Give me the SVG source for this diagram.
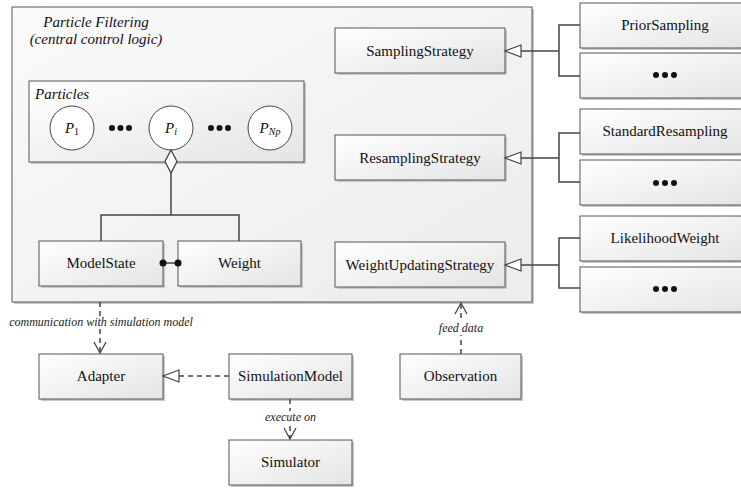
<svg xmlns="http://www.w3.org/2000/svg" width="741" height="488" viewBox="0 0 741 488">
<defs>
<linearGradient id="gBox" x1="0" y1="0" x2="1" y2="1">
<stop offset="0" stop-color="#ffffff"/>
<stop offset="1" stop-color="#e4e4e4"/>
</linearGradient>
<linearGradient id="gMain" x1="0" y1="0" x2="1" y2="1">
<stop offset="0" stop-color="#fafafa"/>
<stop offset="1" stop-color="#ececec"/>
</linearGradient>
<marker id="gen" markerUnits="userSpaceOnUse" markerWidth="18" markerHeight="14" refX="16" refY="7" orient="auto" overflow="visible">
<path d="M0,1 L16,7 L0,13 Z" fill="#fff" stroke="#444" stroke-width="1.2"/>
</marker>
<marker id="dep" markerUnits="userSpaceOnUse" markerWidth="12" markerHeight="14" refX="11" refY="6" orient="auto" overflow="visible">
<path d="M0,0 L11,6 L0,12" fill="none" stroke="#444" stroke-width="1.3"/>
</marker>
</defs>
<style>
.box{fill:url(#gBox);stroke:#555;stroke-width:1}
.shadow{fill:#c8c8c8}
.t{font-family:"Liberation Serif","Times New Roman",serif;font-size:15px;fill:#111;text-anchor:middle}
.it{font-family:"Liberation Serif","Times New Roman",serif;font-style:italic;fill:#111}
.lbl{font-family:"Liberation Serif","Times New Roman",serif;font-style:italic;font-size:12px;fill:#222;text-anchor:middle}
.ln{fill:none;stroke:#444;stroke-width:1.5}
.dash{fill:none;stroke:#444;stroke-width:1.5;stroke-dasharray:5,4}
.dot{fill:#111}
</style>

<g id="particle-filtering">
<rect x="14" y="9" width="520" height="295" class="shadow"/>
<rect x="12" y="7" width="520" height="295" fill="url(#gMain)" stroke="#555"/>
<text class="it" x="96" y="27" font-size="15" text-anchor="middle">Particle Filtering</text>
<text class="it" x="96" y="44" font-size="15" text-anchor="middle">(central control logic)</text>
</g>

<g id="particles">
<rect x="31" y="83" width="275" height="81" class="shadow"/>
<rect x="29" y="81" width="275" height="81" fill="url(#gBox)" stroke="#555"/>
<text class="it" x="35" y="99" font-size="15">Particles</text>
<circle cx="72" cy="128" r="22" fill="#fff" stroke="#444"/>
<text class="it" x="72" y="133" font-size="15" text-anchor="middle">P<tspan font-style="normal" font-size="10" dy="2">1</tspan></text>
<circle class="dot" cx="112" cy="128" r="3"/><circle class="dot" cx="120.5" cy="128" r="3"/><circle class="dot" cx="129" cy="128" r="3"/>
<circle cx="171" cy="128" r="22" fill="#fff" stroke="#444"/>
<text class="it" x="171" y="133" font-size="15" text-anchor="middle">P<tspan font-size="10" dy="2">i</tspan></text>
<circle class="dot" cx="211" cy="128" r="3"/><circle class="dot" cx="219.5" cy="128" r="3"/><circle class="dot" cx="228" cy="128" r="3"/>
<circle cx="270" cy="128" r="22" fill="#fff" stroke="#444"/>
<text class="it" x="270" y="133" font-size="15" text-anchor="middle">P<tspan font-size="10" dy="2">Np</tspan></text>
</g>

<g id="modelstate">
<rect x="41" y="243" width="124" height="45" class="shadow"/>
<rect x="39" y="241" width="124" height="45" class="box"/>
<text class="t" x="101" y="268">ModelState</text>
</g>
<g id="weight">
<rect x="180" y="243" width="123" height="45" class="shadow"/>
<rect x="178" y="241" width="123" height="45" class="box"/>
<text class="t" x="239.5" y="268">Weight</text>
</g>

<g id="samplingstrategy">
<rect x="337" y="30" width="170" height="45" class="shadow"/>
<rect x="335" y="28" width="170" height="45" class="box"/>
<text class="t" x="420" y="56">SamplingStrategy</text>
</g>
<g id="resamplingstrategy">
<rect x="337" y="137" width="170" height="45" class="shadow"/>
<rect x="335" y="135" width="170" height="45" class="box"/>
<text class="t" x="420" y="163">ResamplingStrategy</text>
</g>
<g id="weightupdatingstrategy">
<rect x="337" y="244" width="170" height="45" class="shadow"/>
<rect x="335" y="242" width="170" height="45" class="box"/>
<text class="t" x="420" y="270">WeightUpdatingStrategy</text>
</g>

<g id="priorsampling">
<rect x="582" y="5" width="170" height="45" class="shadow"/>
<rect x="580" y="3" width="170" height="45" class="box"/>
<text class="t" x="665" y="30">PriorSampling</text>
</g>
<g id="sampling-more">
<rect x="582" y="55" width="170" height="45" class="shadow"/>
<rect x="580" y="53" width="170" height="45" class="box"/>
<circle class="dot" cx="656" cy="75" r="3"/><circle class="dot" cx="665" cy="75" r="3"/><circle class="dot" cx="674" cy="75" r="3"/>
</g>
<g id="standardresampling">
<rect x="582" y="111" width="170" height="45" class="shadow"/>
<rect x="580" y="109" width="170" height="45" class="box"/>
<text class="t" x="665" y="136">StandardResampling</text>
</g>
<g id="resampling-more">
<rect x="582" y="162" width="170" height="45" class="shadow"/>
<rect x="580" y="160" width="170" height="45" class="box"/>
<circle class="dot" cx="656" cy="183" r="3"/><circle class="dot" cx="665" cy="183" r="3"/><circle class="dot" cx="674" cy="183" r="3"/>
</g>
<g id="likelihoodweight">
<rect x="582" y="218" width="170" height="45" class="shadow"/>
<rect x="580" y="216" width="170" height="45" class="box"/>
<text class="t" x="665" y="243">LikelihoodWeight</text>
</g>
<g id="weight-more">
<rect x="582" y="269" width="170" height="45" class="shadow"/>
<rect x="580" y="267" width="170" height="45" class="box"/>
<circle class="dot" cx="656" cy="289" r="3"/><circle class="dot" cx="665" cy="289" r="3"/><circle class="dot" cx="674" cy="289" r="3"/>
</g>

<g id="adapter">
<rect x="41" y="356" width="124" height="45" class="shadow"/>
<rect x="39" y="354" width="124" height="45" class="box"/>
<text class="t" x="101" y="381">Adapter</text>
</g>
<g id="simulationmodel">
<rect x="231" y="356" width="123" height="45" class="shadow"/>
<rect x="229" y="354" width="123" height="45" class="box"/>
<text class="t" x="290.5" y="381">SimulationModel</text>
</g>
<g id="observation">
<rect x="402" y="356" width="121" height="45" class="shadow"/>
<rect x="400" y="354" width="121" height="45" class="box"/>
<text class="t" x="460.5" y="381">Observation</text>
</g>
<g id="simulator">
<rect x="231" y="442" width="123" height="45" class="shadow"/>
<rect x="229" y="440" width="123" height="45" class="box"/>
<text class="t" x="290.5" y="467">Simulator</text>
</g>

<g id="connectors">
<path class="ln" d="M580,25 H559 V76 H580"/>
<path class="ln" d="M559,51 H505" marker-end="url(#gen)"/>
<path class="ln" d="M580,133 H559 V182 H580"/>
<path class="ln" d="M559,158 H505" marker-end="url(#gen)"/>
<path class="ln" d="M580,238 H559 V288 H580"/>
<path class="ln" d="M559,265 H505" marker-end="url(#gen)"/>
<path class="ln" d="M171,173 V215"/>
<path class="ln" d="M101,241 V215 H239 V241"/>
<path d="M171,150 L177,161.5 L171,173 L165,161.5 Z" fill="#fff" stroke="#444" stroke-width="1.3"/>
<path class="ln" d="M163,263 H178"/>
<circle class="dot" cx="163" cy="263" r="3.5" fill="#333"/>
<circle class="dot" cx="178" cy="263" r="3.5" fill="#333"/>
<path class="dash" d="M100,302 V353" marker-end="url(#dep)"/>
<rect x="4" y="316" width="194" height="13" fill="#fff"/>
<text class="lbl" x="101" y="326">communication with simulation model</text>
<path class="dash" d="M229,376 H163" marker-end="url(#gen)"/>
<path class="dash" d="M290,399 V439" marker-end="url(#dep)"/>
<rect x="263" y="411" width="55" height="13" fill="#fff"/>
<text class="lbl" x="290.5" y="421">execute on</text>
<path class="dash" d="M461,354 V303" marker-end="url(#dep)"/>
<rect x="435" y="322" width="52" height="13" fill="#fff"/>
<text class="lbl" x="461" y="332">feed data</text>
</g>
</svg>
